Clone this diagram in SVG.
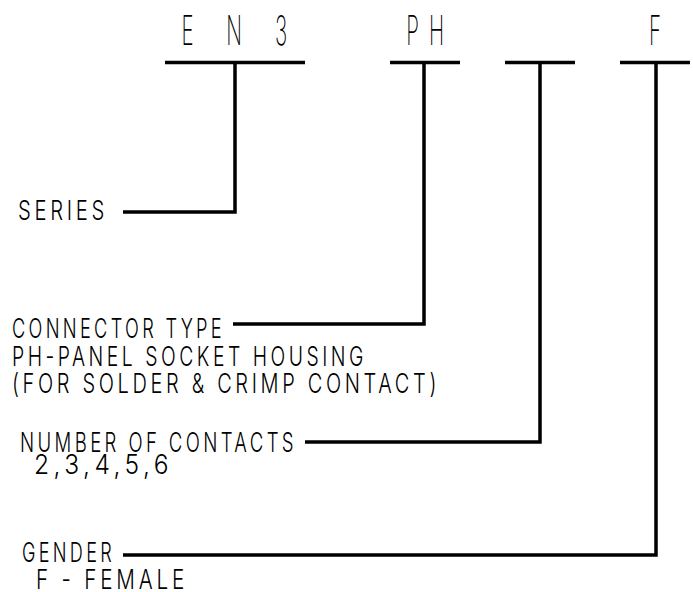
<svg xmlns="http://www.w3.org/2000/svg" width="693" height="592" viewBox="0 0 693 592">
<style>
text{font-family:Inter,"Liberation Sans",sans-serif;fill:#000;font-weight:300}
.t{font-size:41px;font-weight:250}
.l{font-size:27.5px;letter-spacing:5px}
.ln{fill:none;stroke:#000;stroke-width:3.5;stroke-linejoin:miter;stroke-linecap:butt}
</style>
<rect width="693" height="592" fill="#fff"/>
<g id="code">
<text class="t" text-anchor="middle" transform="translate(187.5,45) scale(0.5,1)">E</text>
<text class="t" text-anchor="middle" transform="translate(234,45) scale(0.5,1)">N</text>
<text class="t" text-anchor="middle" transform="translate(281,45) scale(0.5,1)">3</text>
<text class="t" text-anchor="middle" transform="translate(412.5,45) scale(0.5,1)">P</text>
<text class="t" text-anchor="middle" transform="translate(436.5,45) scale(0.5,1)">H</text>
<text class="t" text-anchor="middle" transform="translate(655,45) scale(0.5,1)">F</text>
</g>
<g id="series">
<text class="l" x="18" y="220" textLength="90" lengthAdjust="spacingAndGlyphs">SERIES</text>
</g>
<g id="connector-type">
<text class="l" x="12" y="338" textLength="213" lengthAdjust="spacingAndGlyphs">CONNECTOR TYPE</text>
<text class="l" x="12" y="366" textLength="355" lengthAdjust="spacingAndGlyphs">PH-PANEL SOCKET HOUSING</text>
<text class="l" x="12" y="393" textLength="428" lengthAdjust="spacingAndGlyphs">(FOR SOLDER &amp; CRIMP CONTACT)</text>
</g>
<g id="contacts">
<text class="l" x="20" y="452" textLength="277" lengthAdjust="spacingAndGlyphs">NUMBER OF CONTACTS</text>
<text class="l" x="34" y="474" textLength="139" lengthAdjust="spacingAndGlyphs">2,3,4,5,6</text>
</g>
<g id="gender">
<text class="l" x="22" y="562" textLength="93" lengthAdjust="spacingAndGlyphs">GENDER</text>
<text class="l" x="36" y="589" textLength="152" lengthAdjust="spacingAndGlyphs">F - FEMALE</text>
</g>
<g id="connectors">
<path class="ln" d="M165 62.5H305"/>
<path class="ln" d="M390 62.5H460"/>
<path class="ln" d="M505 62.5H575"/>
<path class="ln" d="M620 62.5H690"/>
<path class="ln" d="M235 62.5V212H123"/>
<path class="ln" d="M424 62.5V324H233"/>
<path class="ln" d="M540 62.5V442H305"/>
<path class="ln" d="M656 62.5V555H123"/>
</g>
</svg>
